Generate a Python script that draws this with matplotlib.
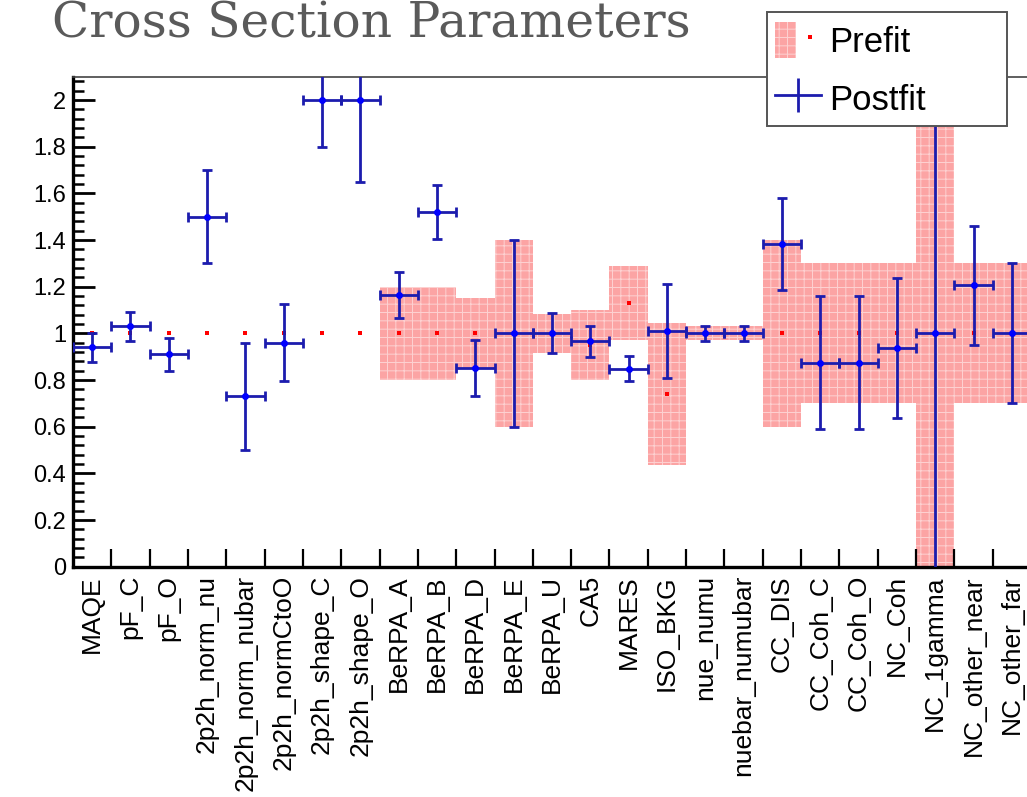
import numpy as np
import matplotlib.pyplot as plt
from matplotlib.patches import Patch, Rectangle
from matplotlib.lines import Line2D
from matplotlib.legend_handler import HandlerTuple
from matplotlib.ticker import MultipleLocator, FixedLocator, FuncFormatter

params = [
    "MAQE", "pF_C", "pF_O", "2p2h_norm_nu", "2p2h_norm_nubar", "2p2h_normCtoO",
    "2p2h_shape_C", "2p2h_shape_O", "BeRPA_A", "BeRPA_B", "BeRPA_D", "BeRPA_E",
    "BeRPA_U", "CA5", "MARES", "ISO_BKG", "nue_numu", "nuebar_numubar", "CC_DIS",
    "CC_Coh_C", "CC_Coh_O", "NC_Coh", "NC_1gamma", "NC_other_near", "NC_other_far",
]

# prior central values and 1 sigma widths (0 = flat prior, no band)
prefit_val = [1.0, 1.0, 1.0, 1.0, 1.0, 1.0, 1.0, 1.0,
              1.0, 1.0, 1.0, 1.0, 1.0, 0.95, 1.13, 0.74,
              1.0, 1.0, 1.0, 1.0, 1.0, 1.0, 1.0, 1.0, 1.0]
prefit_err = [0.0, 0.0, 0.0, 0.0, 0.0, 0.0, 0.0, 0.0,
              0.2, 0.2, 0.15, 0.4, 0.085, 0.15, 0.157, 0.305,
              0.03, 0.03, 0.4, 0.3, 0.3, 0.3, 2.0, 0.3, 0.3]

postfit_val = [0.94, 1.03, 0.91, 1.50, 0.73, 0.96, 2.0, 2.0,
               1.165, 1.52, 0.85, 1.0, 1.0, 0.966, 0.849, 1.01,
               1.0, 1.0, 1.383, 0.874, 0.874, 0.937, 1.0, 1.207, 1.0]
postfit_err = [0.063, 0.063, 0.07, 0.2, 0.23, 0.166, 0.2, 0.35,
               0.097, 0.115, 0.12, 0.4, 0.086, 0.066, 0.052, 0.2,
               0.032, 0.032, 0.197, 0.285, 0.285, 0.3, 2.0, 0.255, 0.3]

W, H = 1027, 797
BLUE = "#1c1cae"
PINK = "#fca4a4"
HATCH_COL = (1, 1, 1, 0.5)

plt.rcParams["font.family"] = ["Liberation Sans", "DejaVu Sans"]
plt.rcParams["hatch.linewidth"] = 0.7

fig = plt.figure(figsize=(W / 100, H / 100), dpi=100)
# frame runs off the right edge of the canvas
ax = fig.add_axes([73 / W, (H - 566.7) / H, (1031 - 73) / W, (566.7 - 76.7) / H])

x = np.arange(len(params)) + 0.5
pre_v = np.array(prefit_val)
pre_e = np.array(prefit_err)

ax.bar(x, 2 * pre_e, bottom=pre_v - pre_e, width=1.0, color=PINK,
       edgecolor=HATCH_COL, linewidth=0, hatch="++", zorder=1)
ax.plot(x, pre_v, ls="none", marker="s", ms=3.2, color="red", mew=0, zorder=2)

ax.errorbar(x, postfit_val, yerr=postfit_err, xerr=0.5, fmt="o", ms=4,
            color="#0000ff", ecolor=BLUE, elinewidth=2, capsize=3.5,
            capthick=2, zorder=3)

ax.set_xlim(0, len(params))
ax.set_ylim(0, 2.1)

ax.xaxis.set_major_locator(FixedLocator(x))
ax.set_xticklabels(params, rotation=90, fontsize=19)
ax.xaxis.set_minor_locator(FixedLocator(np.arange(1, len(params) + 1)))
ax.tick_params(axis="x", which="major", length=0, pad=6)
ax.tick_params(axis="x", which="minor", direction="in", length=13, width=1.6)

ax.yaxis.set_major_locator(MultipleLocator(0.2))
ax.yaxis.set_minor_locator(MultipleLocator(0.04))
ax.yaxis.set_major_formatter(FuncFormatter(lambda v, _: f"{v:g}"))
ax.tick_params(axis="y", which="major", direction="in", length=16, width=2,
               labelsize=17, pad=5)
ax.tick_params(axis="y", which="minor", direction="in", length=8, width=1.8)

for side in ("left", "bottom"):
    ax.spines[side].set_linewidth(2.4)
ax.spines["top"].set_linewidth(1.2)
ax.spines["top"].set_color("#444444")
ax.spines["right"].set_visible(False)

fig.text(52 / W, 1 - 37 / H, "Cross Section Parameters", family="DejaVu Serif",
         fontsize=35, color="#5a5a5a", ha="left", va="baseline")

# legend panel
box = Rectangle((767 / W, 1 - 126 / H), (1007 - 767) / W, (126 - 12) / H,
                transform=fig.transFigure, facecolor="white",
                edgecolor="#555555", linewidth=1.4, zorder=5)
fig.add_artist(box)
pre_handle = (Patch(facecolor=PINK, edgecolor=HATCH_COL, linewidth=0, hatch="++"),
              Line2D([], [], ls="none", marker="s", ms=3.2, color="red", mew=0))
post_handle = Line2D([], [], color=BLUE, lw=2, marker="|", ms=25, mew=2)
leg = fig.legend([pre_handle, post_handle], ["Prefit", "Postfit"],
                 handler_map={tuple: HandlerTuple(ndivide=None)},
                 loc="upper left", bbox_to_anchor=(772 / W, 1 - 19 / H),
                 frameon=False, fontsize=25, handlelength=1.3, handleheight=1.2,
                 handletextpad=0.25, labelspacing=0.62, borderpad=0.1,
                 borderaxespad=0)
leg.set_zorder(6)

fig.savefig("out.png", dpi=100)
